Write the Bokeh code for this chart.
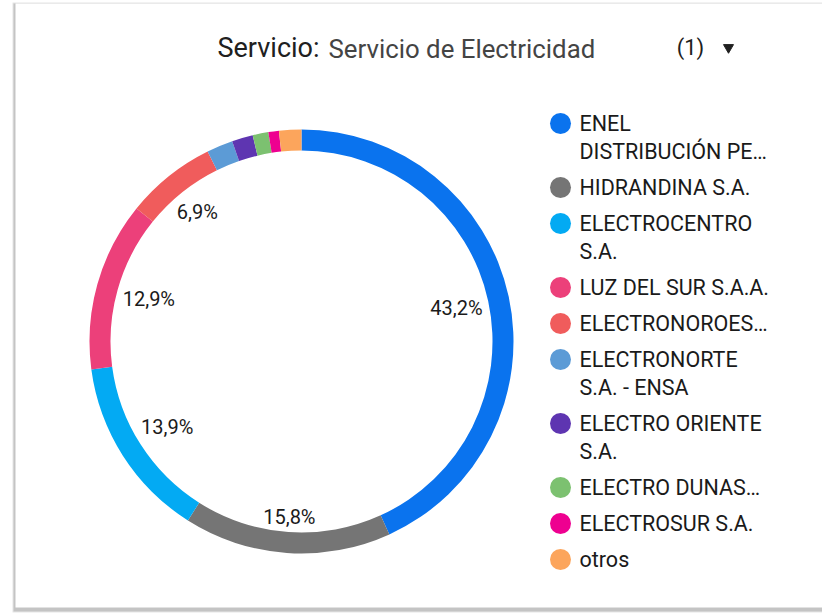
import math
from bokeh.plotting import figure
from bokeh.models import Range1d, ColumnDataSource
from bokeh.core.properties import value
from bokeh.embed import file_html
from bokeh.resources import INLINE

# ---------------- data ----------------
companies = [
    "ENEL DISTRIBUCIÓN PE…",
    "HIDRANDINA S.A.",
    "ELECTROCENTRO S.A.",
    "LUZ DEL SUR S.A.A.",
    "ELECTRONOROES…",
    "ELECTRONORTE S.A. - ENSA",
    "ELECTRO ORIENTE S.A.",
    "ELECTRO DUNAS…",
    "ELECTROSUR S.A.",
    "otros",
]
legend_lines = [
    ["ENEL", "DISTRIBUCIÓN PE…"],
    ["HIDRANDINA S.A."],
    ["ELECTROCENTRO", "S.A."],
    ["LUZ DEL SUR S.A.A."],
    ["ELECTRONOROES…"],
    ["ELECTRONORTE", "S.A. - ENSA"],
    ["ELECTRO ORIENTE", "S.A."],
    ["ELECTRO DUNAS…"],
    ["ELECTROSUR S.A."],
    ["otros"],
]
shares = [43.2, 15.8, 13.9, 12.9, 6.9, 2.0, 1.6, 1.2, 0.8, 1.7]
colors = ["#0a73ee", "#757575", "#03aaf3", "#ec407a", "#f05c5c",
          "#5c9bd6", "#5e35b1", "#7cc170", "#ee0090", "#fca55c"]
title_field = "Servicio:"
title_value = "Servicio de Electricidad"
selector_text = "(1)"

# ---------------- layout ----------------
W, H = 822, 613
FONT = "Roboto"
p = figure(width=W, height=H, output_backend="svg", toolbar_location=None,
           x_range=Range1d(0, W), y_range=Range1d(0, H), min_border=0)
p.axis.visible = False
p.grid.visible = False
p.outline_line_color = None
p.background_fill_color = "white"
p.border_fill_color = "white"

def Y(y):
    return H - y

# card shadow + card
p.quad(left=[12], right=[W + 10], top=[Y(2)], bottom=[Y(612)], color="#e6e6e6", line_color=None)
p.quad(left=[13], right=[W + 10], top=[Y(3)], bottom=[Y(611)], color="#c4c4c4", line_color=None)
p.quad(left=[15], right=[W + 10], top=[Y(3)], bottom=[Y(607)], color="white", line_color=None)

# title row
p.text(x=[217], y=[Y(47)], text=[title_field], text_font=value(FONT), text_font_size="27px",
       text_color="#202020", text_baseline="middle", text_align="left")
p.text(x=[328], y=[Y(48)], text=[title_value], text_font=value(FONT), text_font_size="25.8px",
       text_color="#444444", text_baseline="middle", text_align="left")
p.text(x=[690], y=[Y(47)], text=[selector_text], text_font=value(FONT), text_font_size="22px",
       text_color="#202020", text_baseline="middle", text_align="center")
p.scatter(x=[728], y=[Y(47)], marker="inverted_triangle", size=10, color="#202020")

# donut
cx, cy = 301, Y(341)
r_out, r_in = 212, 191
total = sum(shares)
starts, ends, mids = [], [], []
acc = 0.0
for s in shares:
    f0 = acc / total
    acc += s
    f1 = acc / total
    starts.append(math.pi / 2 - 2 * math.pi * f1)
    ends.append(math.pi / 2 - 2 * math.pi * f0)
    mids.append((f0 + f1) / 2)

src = ColumnDataSource(dict(start=starts, end=ends, color=colors))
p.annular_wedge(x=cx, y=cy, inner_radius=r_in, outer_radius=r_out,
                start_angle="start", end_angle="end", color="color",
                line_color=None, source=src, direction="anticlock")

# slice labels (inside the ring)
lab_size = 20
lx, ly, lt = [], [], []
for s, m in zip(shares, mids):
    if s < 5:
        continue
    txt = ("%.1f" % s).replace(".", ",") + "%"
    ndig = sum(c.isdigit() for c in txt)
    hw = 0.5 * lab_size * (0.562 * ndig + 0.197 + 0.733)
    hh = 8.5
    ang = 2 * math.pi * m
    ux, uy = math.sin(ang), math.cos(ang)
    r = 186 - (hw * abs(ux) + hh * abs(uy))
    lx.append(cx + r * ux)
    ly.append(cy + r * uy)
    lt.append(txt)
p.text(x=lx, y=ly, text=lt, text_font=value(FONT), text_font_size="%dpx" % lab_size,
       text_color="#1a1a1a", text_align="center", text_baseline="middle")

# legend
y0 = 123
cxs, cys, txs, tys, tts = [], [], [], [], []
y = y0
for lines in legend_lines:
    cxs.append(560)
    cys.append(Y(y))
    for i, ln in enumerate(lines):
        txs.append(579)
        tys.append(Y(y + 28 * i))
        tts.append(ln)
    y += 36 + 28 * (len(lines) - 1)
p.scatter(x=cxs, y=cys, size=21, color=colors, line_color=None)
p.text(x=txs, y=tys, text=tts, text_font=value(FONT), text_font_size="21.5px",
       text_color="#1a1a1a", text_align="left", text_baseline="middle")

open("out.html", "w").write(file_html(p, INLINE))
